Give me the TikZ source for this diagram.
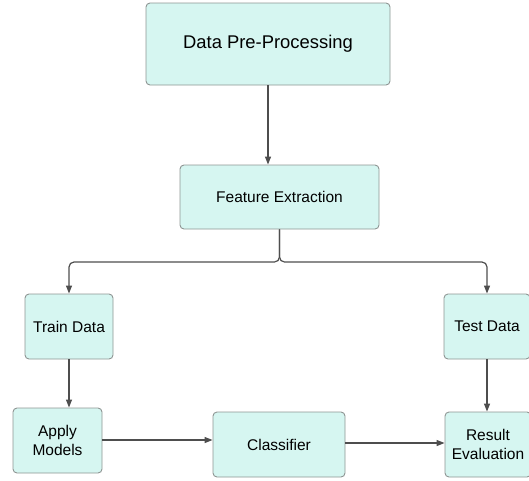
\documentclass[tikz,border=0pt]{standalone}
\usepackage{fontspec}
\setmainfont{Liberation Sans}
\usetikzlibrary{arrows.meta,positioning,calc}
\definecolor{boxfill}{HTML}{D6F6F1}
\definecolor{boxline}{HTML}{8E9593}
\definecolor{linkgray}{HTML}{4E4E4E}
\tikzset{
  stepbox/.style={draw=boxline, fill=boxfill, line width=0.9pt, rounded corners=4pt,
    align=center, inner sep=2pt, font=\fontsize{15.5}{18.5}\selectfont},
  link/.style={draw=linkgray, line width=1.2pt, -{Triangle[length=8pt,width=6pt]}}
}
\begin{document}
\begin{tikzpicture}[x=1pt,y=-1pt]
  \useasboundingbox (0,0) rectangle (529,480);
  \node[stepbox, minimum width=244pt, minimum height=82pt,
        font=\fontsize{18.4}{22}\selectfont] (pre) at (268,44) {Data Pre-Processing};
  \node[stepbox, minimum width=199pt, minimum height=64pt] (feat) at (279.5,197) {Feature Extraction};
  \node[stepbox, minimum width=88pt, minimum height=65pt] (train) at (69,326.5) {Train Data};
  \node[stepbox, minimum width=86pt, minimum height=65pt] (test) at (487,326.5) {Test Data};
  \node[stepbox, minimum width=89pt, minimum height=65pt] (apply) at (57.5,440.5) {Apply\\Models};
  \node[stepbox, minimum width=132pt, minimum height=65pt] (clf) at (279,444.5) {Classifier};
  \node[stepbox, minimum width=86pt, minimum height=65pt] (result) at (488,444.5) {Result\\Evaluation};
  \coordinate (split) at (279.5,262);
  % links
  \draw[link] (pre.south) -- (pre.south |- feat.north);
  \draw[link, rounded corners=5pt] (feat.south) -- (split) -| (train.north);
  \draw[link, rounded corners=5pt] (feat.south) -- (split) -| (test.north);
  \draw[link] (train.south) -- (train.south |- apply.north);
  \draw[link] (test.south) -- (test.south |- result.north);
  \draw[link] ($(apply.east)+(0,-0.5)$) -- ($(apply.east -| clf.west)+(0,-0.5)$);
  \draw[link] ($(clf.east)+(0,-1.5)$) -- ($(clf.east -| result.west)+(0,-1.5)$);
\end{tikzpicture}
\end{document}
